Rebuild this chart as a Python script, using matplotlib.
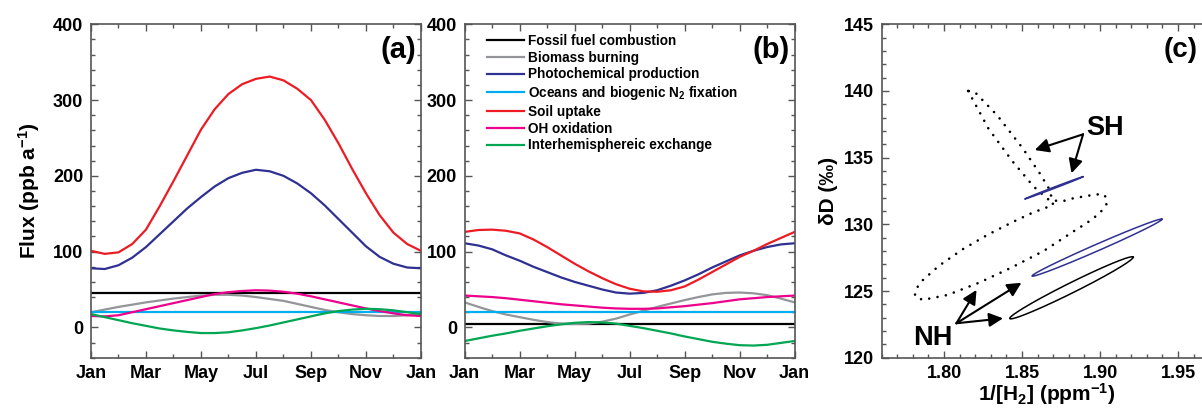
import numpy as np
import matplotlib
matplotlib.use("Agg")
from matplotlib import pyplot as plt
from matplotlib.ticker import MultipleLocator, FormatStrFormatter

plt.rcParams["font.family"] = ["Liberation Sans", "DejaVu Sans"]
plt.rcParams["font.weight"] = "bold"
plt.rcParams["mathtext.fontset"] = "custom"
plt.rcParams["mathtext.rm"] = "Liberation Sans:bold"
plt.rcParams["mathtext.it"] = "Liberation Sans:bold"
plt.rcParams["mathtext.bf"] = "Liberation Sans:bold"
plt.rcParams["mathtext.default"] = "rm"

# half-month positions, Jan = 0 ... next Jan = 12
MONTHS = np.arange(0, 12.01, 0.5)
MONTH_TICKS = [0, 2, 4, 6, 8, 10, 12]
MONTH_LABELS = ["Jan", "Mar", "May", "Jul", "Sep", "Nov", "Jan"]

# ---- panel (a) ----
A_FOSSIL = [46] * 25
A_BIOMASS = [20, 23.5, 27, 30, 33, 35.5, 38, 40, 42, 43, 43, 42, 40, 37.5, 35, 31,
             27, 23, 20, 17.5, 16, 15, 15, 16, 18]
A_PHOTO = [78, 77, 82, 92, 106, 123, 140, 157, 172, 186, 197, 204, 208, 206, 200, 190,
           177, 161, 143, 125, 107, 93, 84, 79, 78]
A_OCEAN = [20.5] * 25
A_SOIL = [101, 97, 99, 110, 129, 160, 193, 227, 261, 288, 308, 321, 328, 331, 326, 315,
          300, 274, 243, 209, 177, 148, 125, 110, 101]
A_OH = [15, 14.5, 16, 20, 24, 28, 32, 36, 40, 44, 46.5, 48, 49, 48.5, 47, 44.5,
        41, 37, 33, 29, 25, 21.5, 18.5, 16, 15]
A_EXCH = [17.5, 13.5, 9.5, 5.5, 2, -1.5, -4, -6, -7.5, -7.5, -6.5, -4, -1, 2.5, 6.5, 10.5,
          14.5, 18.5, 21.5, 23.5, 24.5, 24, 22.5, 20, 17.5]

# ---- panel (b) ----
B_FOSSIL = [5] * 25
B_BIOMASS = [33, 27, 21.5, 17, 13.5, 10, 7, 5, 4.5, 5, 7.5, 11.5, 17, 22, 27, 31.5,
             36, 40, 43.5, 45.5, 46, 45, 42.5, 38, 33]
B_PHOTO = [111, 108, 103, 95, 88, 80, 73, 66, 60, 55, 50, 46, 44.5, 45.5, 49, 55,
           62, 70, 79, 87, 95, 101, 106, 109.5, 111]
B_OCEAN = [20.5] * 25
B_SOIL = [126, 128.5, 129, 127.5, 124, 116, 106, 95, 84, 74, 65, 57, 51, 47.5, 47, 49,
          54, 63, 73, 83, 93, 101, 110, 118, 126]
B_OH = [42, 41, 40, 38.5, 36.5, 34.5, 32.5, 30.5, 29, 27.5, 26, 25, 24.5, 24.5, 25, 26.5,
        28, 30, 32, 34.5, 37, 38.5, 40, 41, 42]
B_EXCH = [-18, -14.5, -11, -8, -4.5, -1.5, 1.5, 4, 6, 7, 6.5, 5, 2, -1, -4.5, -8,
          -12, -15.5, -19, -21.5, -23.5, -24, -23, -20.5, -18]

LEGEND_LABELS = ["Fossil fuel combustion", "Biomass burning", "Photochemical production",
                 "Oceans and biogenic N$_2$ fixation", "Soil uptake", "OH oxidation",
                 "Interhemisphereic exchange"]
COLORS = ["#000000", "#939598", "#2E3192", "#00AEEF", "#ED1C24", "#EC008C", "#00A651"]

# ---- panel (c) ----
# dotted seasonal loop (1/[H2], dD)
LOOP_X = [1.8154, 1.8285, 1.8438, 1.8575, 1.8678, 1.8774, 1.8827, 1.8977, 1.9030, 1.9045,
          1.8998, 1.8913, 1.8844, 1.8641, 1.8436, 1.8224, 1.8022, 1.7862, 1.7812, 1.7823,
          1.7865, 1.7968, 1.8122, 1.8280, 1.8436, 1.8567, 1.8699, 1.8678, 1.8613, 1.8506,
          1.8342, 1.8197, 1.8154]
LOOP_Y = [140.0, 137.17, 134.73, 132.82, 131.77, 131.77, 131.95, 132.25, 132.2, 131.58,
          130.83, 130.08, 129.58, 128.02, 126.78, 125.62, 124.70, 124.33, 124.63, 125.2,
          125.83, 126.9, 128.15, 129.22, 130.15, 130.87, 131.45, 132.57, 133.83, 135.67,
          138.15, 139.92, 140.0]
# ellipses: left tip, right tip, vertical half-thickness
ELL_TIPS_X = [(1.8421, 1.9212), (1.8564, 1.9397), (1.8517, 1.8891)]
ELL_TIPS_Y = [(122.95, 127.53), (126.13, 130.38), (131.9, 133.57)]
ELL_HALF = [0.42, 0.27, 0.05]
ELL_COLORS = ["#000000", "#2E3192", "#2E3192"]

SPINE = "#555555"


def style_axes(ax):
    ax.tick_params(which="both", direction="in", top=True, right=True, color=SPINE,
                   labelcolor="black", labelsize=13, width=1.0, pad=5.5)
    ax.tick_params(which="major", length=5)
    ax.tick_params(which="minor", length=3)
    for s in ax.spines.values():
        s.set_color(SPINE)
        s.set_linewidth(1.2)


def flux_panel(ax, series, tag):
    for vals, col in zip(series, COLORS):
        ax.plot(MONTHS, vals, color=col, lw=1.6)
    ax.set_xlim(0, 12)
    ax.set_ylim(-40, 400)
    ax.set_xticks(MONTH_TICKS)
    ax.set_xticklabels(MONTH_LABELS)
    ax.xaxis.set_minor_locator(MultipleLocator(1))
    ax.yaxis.set_minor_locator(MultipleLocator(20))
    ax.set_yticks([0, 100, 200, 300, 400])
    style_axes(ax)
    ax.text(0.985, 0.924, tag, transform=ax.transAxes, ha="right", va="center",
            fontsize=21, fontweight="bold")


def ellipse(x_tips, y_tips, half):
    cx, cy = (x_tips[0] + x_tips[1]) / 2, (y_tips[0] + y_tips[1]) / 2
    ax_, ay_ = (x_tips[1] - x_tips[0]) / 2, (y_tips[1] - y_tips[0]) / 2
    t = np.linspace(0, 2 * np.pi, 200)
    return cx + ax_ * np.cos(t), cy + ay_ * np.cos(t) + half * np.sin(t)


fig = plt.figure(figsize=(12.02, 4.18), dpi=100)
bottom, height = 0.1443, 0.7976
ax_a = fig.add_axes([0.0757, bottom, 0.2745, height])
ax_b = fig.add_axes([0.3866, bottom, 0.2745, height])
ax_c = fig.add_axes([0.7335, bottom, 0.3115, height])

flux_panel(ax_a, [A_FOSSIL, A_BIOMASS, A_PHOTO, A_OCEAN, A_SOIL, A_OH, A_EXCH], "(a)")
flux_panel(ax_b, [B_FOSSIL, B_BIOMASS, B_PHOTO, B_OCEAN, B_SOIL, B_OH, B_EXCH], "(b)")
ax_a.set_ylabel("Flux (ppb a$^{-1}$)", fontsize=15, fontweight="bold")
ax_a.yaxis.set_label_coords(-0.148, 0.5)

handles = ax_b.get_lines()[:7]
ax_b.legend(handles, LEGEND_LABELS, loc="upper left", bbox_to_anchor=(0.067, 0.971),
            frameon=False, fontsize=9.8, handlelength=2.7, handletextpad=0.3,
            labelspacing=0.2, borderpad=0, borderaxespad=0)

# panel (c)
ax_c.plot(LOOP_X, LOOP_Y, color="black", lw=1.9, linestyle=(0, (0.01, 3.2)),
          dash_capstyle="round")
for xt, yt, h, col in zip(ELL_TIPS_X, ELL_TIPS_Y, ELL_HALF, ELL_COLORS):
    ex, ey = ellipse(xt, yt, h)
    ax_c.plot(ex, ey, color=col, lw=1.1)

arrow = dict(arrowstyle="-|>", color="black", lw=1.5, mutation_scale=21,
             shrinkA=0, shrinkB=0)
for hx, hy in [(1.8581, 135.57), (1.8817, 133.83)]:
    ax_c.annotate("", xy=(hx, hy), xytext=(1.8891, 136.75), arrowprops=arrow)
for hx, hy in [(1.8208, 125.08), (1.8496, 125.62), (1.8378, 122.95)]:
    ax_c.annotate("", xy=(hx, hy), xytext=(1.8079, 122.58), arrowprops=arrow)
ax_c.text(1.903, 137.2, "SH", fontsize=19.5, fontweight="bold", ha="center", va="center")
ax_c.text(1.793, 121.45, "NH", fontsize=19.5, fontweight="bold", ha="center", va="center")

ax_c.set_xlim(1.76, 2.00)
ax_c.set_ylim(120, 145)
ax_c.set_xticks([1.80, 1.85, 1.90, 1.95])
ax_c.xaxis.set_minor_locator(MultipleLocator(0.01))
ax_c.xaxis.set_major_formatter(FormatStrFormatter("%.2f"))
ax_c.yaxis.set_major_locator(MultipleLocator(5))
ax_c.yaxis.set_minor_locator(MultipleLocator(1))
style_axes(ax_c)
ax_c.set_xlabel("1/[H$_2$] (ppm$^{-1}$)", fontsize=15, fontweight="bold")
ax_c.xaxis.set_label_coords(0.442, -0.07)
ax_c.set_ylabel("\u03b4D (\u2030)", fontsize=15, fontweight="bold")
ax_c.yaxis.set_label_coords(-0.117, 0.5)
# kept just inside the figure edge
ax_c.text(0.754, 0.924, "(c)", transform=ax_c.transAxes, ha="left", va="center",
          fontsize=20, fontweight="bold")

fig.savefig("out.png", dpi=100)
